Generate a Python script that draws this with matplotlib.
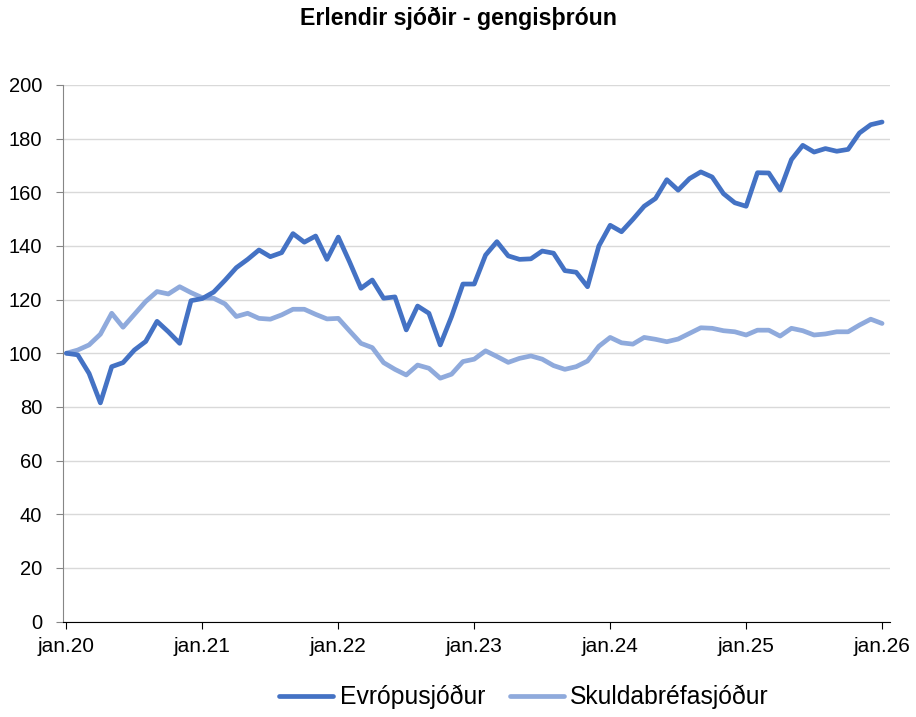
import matplotlib
matplotlib.use("Agg")
import matplotlib.pyplot as plt
import numpy as np

plt.rcParams['font.family'] = ['Liberation Sans', 'DejaVu Sans']

title = "Erlendir sjóðir - gengisþróun"
series_names = ["Evrópusjóður", "Skuldabréfasjóður"]
tick_labels = ["jan.20", "jan.21", "jan.22", "jan.23", "jan.24", "jan.25", "jan.26"]

evropusjodur = [
    100, 99.4, 92.5, 81.5, 95, 96.5, 101.2, 104.4, 111.9, 108, 103.7, 119.6,
    120.4, 122.8, 127.2, 131.9, 135, 138.5, 136, 137.5, 144.6, 141.4, 143.7, 135,
    143.3, 134, 124.2, 127.3, 120.5, 121, 108.7, 117.6, 114.9, 103.1, 113.7, 125.8,
    125.8, 136.6, 141.6, 136.3, 135, 135.2, 138.1, 137.3, 130.8, 130.2, 124.8, 140,
    147.7, 145.3, 149.9, 154.8, 157.7, 164.7, 160.8, 165.1, 167.6, 165.7, 159.5, 156.1,
    154.8, 167.3, 167.2, 160.8, 172.2, 177.5, 175.0, 176.3, 175.3, 176.0, 182.1, 185.2,
    186.2,
]
skuldabrefasjodur = [
    100, 101.2, 103.1, 107.1, 114.9, 109.7, 114.5, 119.3, 123, 122.1, 124.8, 122.6,
    120.7, 120.5, 118.4, 113.7, 114.9, 113, 112.7, 114.3, 116.4, 116.4, 114.5, 112.8,
    113, 108.3, 103.7, 102.1, 96.5, 94, 91.9, 95.6, 94.4, 90.7, 92.2, 96.9,
    97.8, 100.9, 98.8, 96.6, 98.1, 99, 97.8, 95.4, 94.0, 95, 97.1, 102.6,
    105.9, 103.9, 103.4, 105.9, 105.2, 104.3, 105.3, 107.4, 109.5, 109.3, 108.4, 108.0,
    106.8, 108.6, 108.6, 106.4, 109.3, 108.4, 106.8, 107.2, 108.0, 108.0, 110.5, 112.7,
    111.1,
]
colors = ["#4472C4", "#8FAADC"]

months = np.arange(len(evropusjodur))

fig = plt.figure(figsize=(9.16, 7.17), dpi=100)
ax = fig.add_axes([63/916, 1-621.5/717, (890-63)/916, (621.5-85)/717])

ax.plot(months, evropusjodur, color=colors[0], lw=3.4, label=series_names[0],
        solid_capstyle='round', solid_joinstyle='round', zorder=3)
ax.plot(months, skuldabrefasjodur, color=colors[1], lw=3.4, label=series_names[1],
        solid_capstyle='round', solid_joinstyle='round', zorder=2)

ax.set_ylim(0, 200)
ax.set_yticks(np.arange(0, 201, 20))
ax.set_xlim(-0.3, 72.7)
ax.set_xticks(np.arange(0, 73, 12))
ax.set_xticklabels(tick_labels)

ax.grid(axis='y', color='#D9D9D9', lw=1)
ax.set_axisbelow(True)
for s in ['top', 'right']:
    ax.spines[s].set_visible(False)
ax.spines['left'].set_color('#868686')
ax.spines['bottom'].set_color('#000000')
ax.tick_params(axis='y', length=5, color='#868686', labelsize=14.5, pad=10, direction='out')
ax.tick_params(axis='x', length=5, color='#000000', labelsize=15, pad=6, direction='out')

fig.text(0.5, 1-18/717, title, ha='center', va='center', fontsize=16.7, fontweight='bold')

fig.legend(loc='center', bbox_to_anchor=(524/916, 1-697/717), ncol=2, frameon=False,
           fontsize=17.8, handlelength=2.2, handletextpad=0.25, columnspacing=1.0)

fig.savefig("out.png", dpi=100)
